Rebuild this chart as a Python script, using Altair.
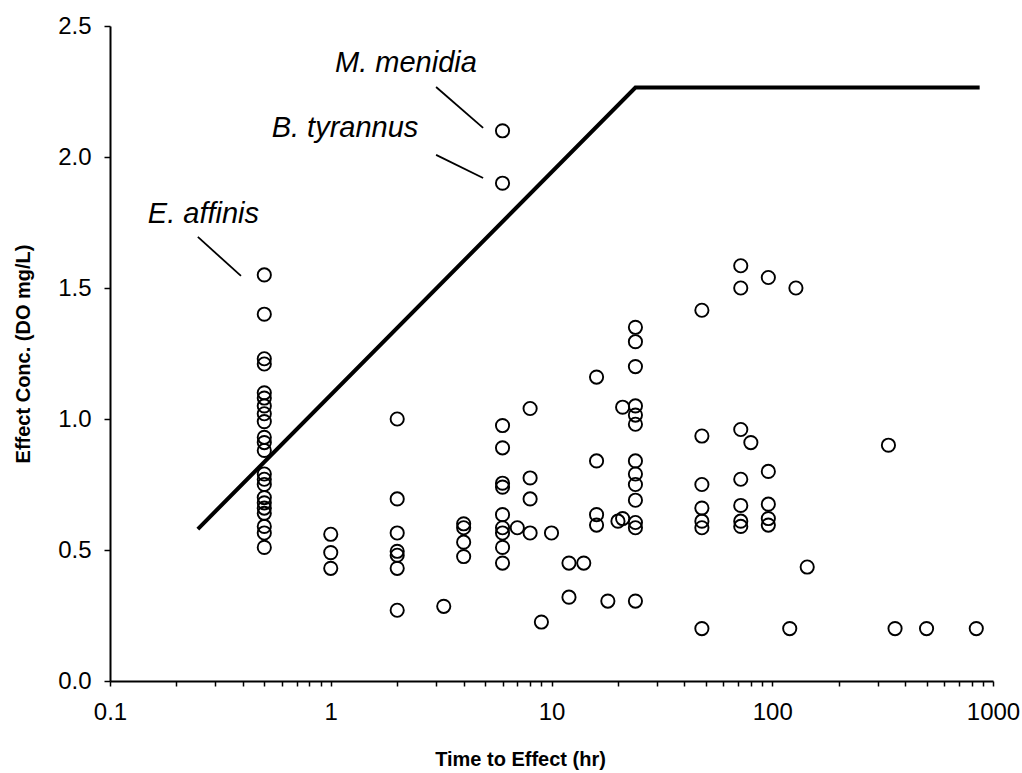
import altair as alt
import pandas as pd

# Observed effect concentrations (DO mg/L) at each exposure duration (hr)
time_hr = (
    [0.5] * 22
    + [1] * 3
    + [2] * 7
    + [3.25]
    + [4] * 4
    + [6] * 11
    + [7]
    + [8] * 4
    + [9, 10]
    + [12] * 2
    + [14]
    + [16] * 4
    + [18, 20]
    + [21] * 2
    + [24] * 13
    + [48] * 7
    + [72] * 7
    + [80]
    + [96] * 5
    + [120, 128, 144, 336, 360, 500, 840]
)
conc_mg_l = (
    [1.55, 1.40, 1.23, 1.21, 1.10, 1.08, 1.05, 1.02, 0.99, 0.93, 0.91,
     0.88, 0.79, 0.77, 0.75, 0.70, 0.68, 0.66, 0.64, 0.59, 0.565, 0.51]
    + [0.56, 0.49, 0.43]
    + [1.00, 0.695, 0.565, 0.495, 0.48, 0.43, 0.27]
    + [0.285]
    + [0.60, 0.585, 0.53, 0.475]
    + [2.10, 1.90, 0.975, 0.89, 0.755, 0.74, 0.635, 0.585, 0.565, 0.51, 0.45]
    + [0.585]
    + [1.04, 0.775, 0.695, 0.565]
    + [0.225, 0.565]
    + [0.45, 0.32]
    + [0.45]
    + [1.16, 0.84, 0.635, 0.595]
    + [0.305, 0.61]
    + [1.045, 0.62]
    + [1.35, 1.295, 1.20, 1.05, 1.015, 0.98, 0.84, 0.79, 0.75, 0.69, 0.605, 0.585, 0.305]
    + [1.415, 0.935, 0.75, 0.66, 0.61, 0.585, 0.20]
    + [1.585, 1.50, 0.96, 0.77, 0.67, 0.61, 0.59]
    + [0.91]
    + [1.54, 0.80, 0.675, 0.62, 0.595]
    + [0.20, 1.50, 0.435, 0.90, 0.20, 0.20, 0.20]
)

# Criterion curve: rises log-linearly, then levels off
curve_time = [0.25, 24, 870]
curve_conc = [0.58, 2.265, 2.265]

# Species call-outs: label anchor and leader line ends
species = ["E. affinis", "M. menidia", "B. tyrannus"]
label_time = [0.265, 2.19, 1.16]
label_conc = [1.75, 2.325, 2.075]
leader_x1 = [0.25, 3.0, 3.0]
leader_y1 = [1.695, 2.267, 2.008]
leader_x2 = [0.392, 4.9, 4.9]
leader_y2 = [1.546, 2.111, 1.92]

# Axis ticks
major_ticks = [0.1, 1, 10, 100, 1000]
minor_ticks = [round(m * d, 6) for m in major_ticks[:-1] for d in range(2, 10)]
x_ticks = sorted(major_ticks + minor_ticks)
y_ticks = [0.0, 0.5, 1.0, 1.5, 2.0, 2.5]

obs = pd.DataFrame({"time": time_hr, "conc": conc_mg_l})
curve = pd.DataFrame({"time": curve_time, "conc": curve_conc})
labels = pd.DataFrame({"name": species, "time": label_time, "conc": label_conc})
leaders = pd.DataFrame({"x1": leader_x1, "y1": leader_y1, "x2": leader_x2, "y2": leader_y2})

FONT = "Liberation Sans"

x_scale = alt.Scale(type="log", domain=[0.1, 1000], nice=False)
y_scale = alt.Scale(domain=[0, 2.5], nice=False, zero=True)

major_str = "[" + ",".join(str(v) for v in major_ticks) + "]"

x_axis = alt.Axis(
    title="Time to Effect (hr)",
    values=x_ticks,
    labelExpr=f"indexof({major_str}, datum.value) >= 0 ? format(datum.value, '~g') : ''",
    labelOverlap=False,
    labelFlush=False,
    labelBound=False,
    tickSize=5,
    labelPadding=14,
    titlePadding=25,
    titleX=410,
    grid=False,
)
y_axis = alt.Axis(
    title="Effect Conc. (DO mg/L)",
    values=y_ticks,
    format=".1f",
    tickSize=6,
    labelPadding=13,
    titlePadding=24,
    grid=False,
)

points = alt.Chart(obs).mark_point(
    shape="circle", filled=False, stroke="black", strokeWidth=1.9, size=175, opacity=1
).encode(
    x=alt.X("time:Q", scale=x_scale, axis=x_axis),
    y=alt.Y("conc:Q", scale=y_scale, axis=y_axis),
)

line = alt.Chart(curve).mark_line(color="black", strokeWidth=4).encode(
    x=alt.X("time:Q", scale=x_scale),
    y=alt.Y("conc:Q", scale=y_scale),
)

leader_rules = alt.Chart(leaders).mark_rule(color="black", strokeWidth=1.8).encode(
    x=alt.X("x1:Q", scale=x_scale),
    y=alt.Y("y1:Q", scale=y_scale),
    x2="x2:Q",
    y2="y2:Q",
)

species_text = alt.Chart(labels).mark_text(
    font=FONT, fontSize=29, fontStyle="italic", align="center", baseline="alphabetic", color="black"
).encode(
    x=alt.X("time:Q", scale=x_scale),
    y=alt.Y("conc:Q", scale=y_scale),
    text="name:N",
)

chart = (
    alt.layer(line, points, leader_rules, species_text)
    .properties(
        width=883,
        height=655,
        autosize=alt.AutoSizeParams(type="none"),
        padding={"left": 110, "top": 26, "right": 29, "bottom": 92},
        background="white",
    )
    .configure_view(stroke=None)
    .configure_axis(
        domainColor="black",
        domainWidth=2,
        tickColor="black",
        tickWidth=1.5,
        labelFont=FONT,
        labelFontSize=24,
        labelColor="black",
        titleFont=FONT,
        titleFontSize=20,
        titleFontWeight="bold",
        titleColor="black",
    )
)

chart.save("out.html", embed_options={"renderer": "svg", "actions": False})
